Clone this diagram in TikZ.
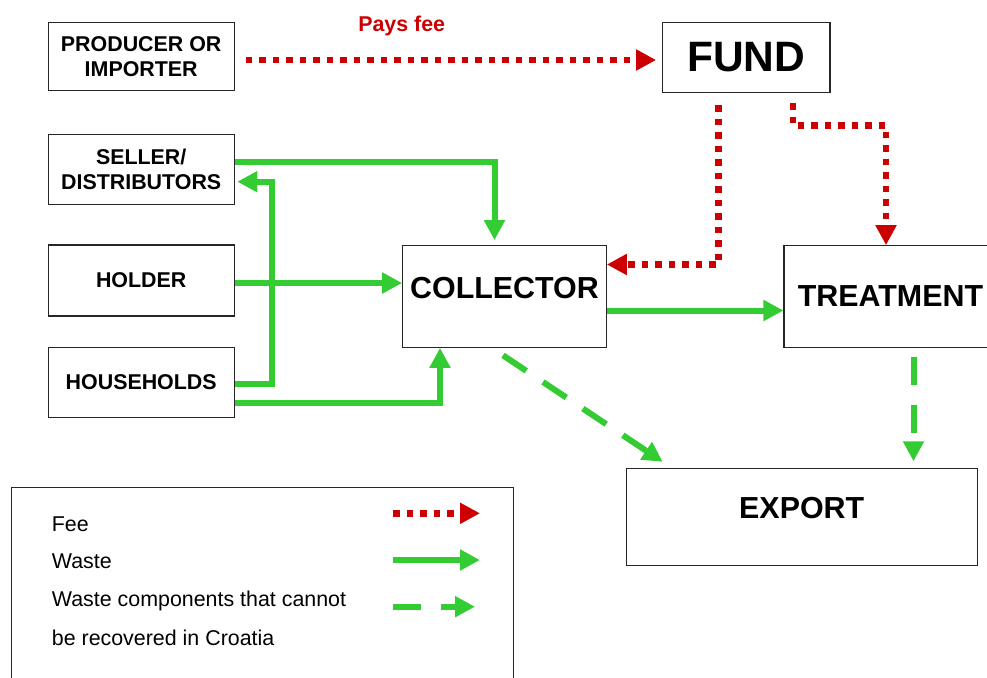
\documentclass[tikz,border=0pt]{standalone}
\usepackage{fontspec}
\setmainfont{Liberation Sans}
\usetikzlibrary{arrows.meta,calc}
\definecolor{feered}{HTML}{CC0000}
\definecolor{wastegreen}{HTML}{33CC33}
\definecolor{frame}{HTML}{262626}

\begin{document}
\begin{tikzpicture}[x=1pt,y=-1pt,
  box/.style={draw=frame,line width=1.1pt,inner sep=0pt,align=center,
    font=\bfseries\fontsize{21.4}{25.7}\selectfont},
  bigbox/.style={box,font=\bfseries\fontsize{30.4}{36}\selectfont},
  tipshape/.style={-{Triangle[length=20pt,width=20pt]}},
  fee/.style={draw=feered,line width=6.5pt,dash pattern=on 6.5pt off 7pt,tipshape},
  waste/.style={draw=wastegreen,line width=6pt,tipshape},
  rejected/.style={waste,dash pattern=on 28pt off 20pt},
  legtext/.style={anchor=base west,inner sep=0pt,font=\fontsize{21.4}{25.7}\selectfont}
]
\useasboundingbox (0,0) rectangle (987,677);

% ---- actors on the left
\node[box,minimum width=185.7pt,minimum height=68.4pt] (prod) at (141.2,56.5) {PRODUCER OR\\IMPORTER};
\node[box,minimum width=185.7pt,minimum height=69.7pt] (seller) at (141.2,169.2) {SELLER/\\DISTRIBUTORS};
\node[box,minimum width=185.7pt,minimum height=71pt] (holder) at (141.2,280.5) {HOLDER};
\node[box,minimum width=185.7pt,minimum height=69.6pt] (house) at (141.2,382.5) {HOUSEHOLDS};

% ---- fund, collection and processing
\node[box,minimum width=167.3pt,minimum height=70.4pt,font=\bfseries\fontsize{42.5}{50}\selectfont] (fund) at (746.3,57.5) {FUND};
\node[bigbox,minimum width=203.6pt,minimum height=101.6pt,text height=22pt,text depth=19pt] (coll) at (504.5,296.5) {COLLECTOR};
\node[bigbox,minimum width=213pt,minimum height=101.6pt] (treat) at (890.5,296.5) {TREATMENT};
\node[bigbox,minimum width=351.3pt,minimum height=96.7pt,text height=22pt,text depth=18.8pt] (export) at (801.7,516.7) {EXPORT};

% ---- fee flows
\node[anchor=base,inner sep=0pt,text=feered,font=\bfseries\fontsize{21.4}{25.7}\selectfont] (paysfee) at (401.7,31.7) {Pays fee};
\coordinate (pfA) at ([shift={(11,3.5)}]prod.east);
\draw[fee,shorten >=6pt] (pfA) -- (pfA -| fund.west);

\coordinate (fcA) at ([shift={(-28,12)}]fund.south);
\coordinate (fcB) at ([shift={(0,-32)}]coll.east);
\draw[fee] (fcA) |- (fcB);

\coordinate (ftA) at ([shift={(46.5,10)}]fund.south);
\coordinate (ftB) at ([shift={(-4.5,0)}]treat.north);
\draw[fee] (ftA) -- ++(0,22.3) -| (ftB);

% ---- waste flows
\coordinate (scA) at ([shift={(0,-7)}]seller.east);
\coordinate (scB) at ([shift={(-10,0)}]coll.north);
\draw[waste,shorten >=5pt] (scA) -| (scB);

\coordinate (hsA) at ([shift={(0,1.5)}]house.east);
\coordinate (hsB) at ([shift={(0,12.5)}]seller.east);
\draw[waste,shorten >=2.7pt] (hsA) -- ++(37.5,0) |- (hsB);

\coordinate (hcA) at ([shift={(0,2.5)}]holder.east);
\draw[waste] (hcA) -- (hcA -| coll.west);

\coordinate (hoA) at ([shift={(0,20.5)}]house.east);
\coordinate (hoB) at ([shift={(-64.5,0)}]coll.south);
\draw[waste] (hoA) -| (hoB);

\coordinate (ctA) at ([shift={(0,14)}]coll.east);
\draw[waste] (ctA) -- (ctA -| treat.west);

% ---- components sent abroad
\coordinate (ceA) at ([shift={(-1.5,7.5)}]coll.south);
\coordinate (ceB) at ([shift={(-139,-6)}]export.north);
\draw[rejected] (ceA) -- (ceB);

\coordinate (teA) at ([shift={(23,9.5)}]treat.south);
\draw[rejected,shorten >=6.5pt] (teA) -- (teA |- export.north);

% ---- legend
\node[draw=frame,line width=1.1pt,anchor=north west,minimum width=502.3pt,minimum height=230pt] (legend) at (11,486.7) {};
\node[legtext] (lgfee) at (51.7,531.7) {Fee};
\node[legtext] (lgwaste) at (51.7,568.3) {Waste};
\node[legtext] (lgrej1) at (51.7,606.7) {Waste components that cannot};
\node[legtext] (lgrej2) at (51.7,645.7) {be recovered in Croatia};

\coordinate (lkA) at (393,513.3);
\coordinate (lkB) at (480,513.3);
\draw[fee] (lkA) -- (lkB);
\coordinate (lwA) at (393,560);
\coordinate (lwB) at (480,560);
\draw[waste] (lwA) -- (lwB);
\coordinate (lrA) at (393,606.7);
\coordinate (lrB) at (475,606.7);
\draw[rejected] (lrA) -- (lrB);
\end{tikzpicture}
\end{document}
